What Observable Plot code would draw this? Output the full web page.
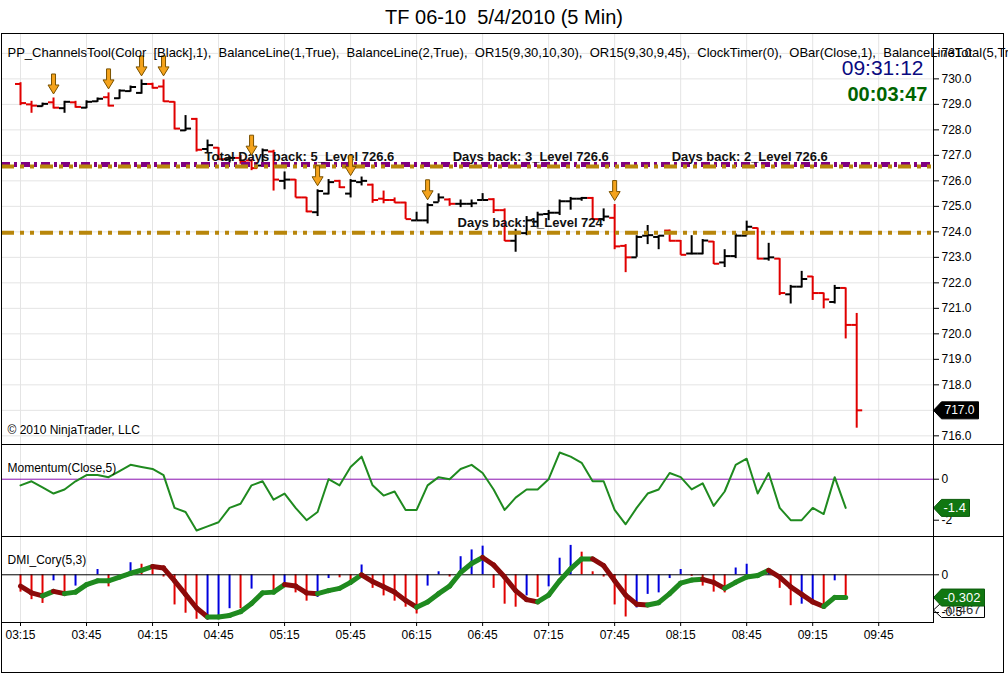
<!DOCTYPE html>
<html>
<head>
<meta charset="utf-8">
<script src="https://cdn.jsdelivr.net/npm/d3@7"></script>
<script src="https://cdn.jsdelivr.net/npm/@observablehq/plot@0.6"></script>
<style>
html,body{margin:0;padding:0;background:#fff;}
#wrap{position:relative;width:1008px;height:675px;overflow:hidden;font-family:"Liberation Sans",Arial,sans-serif;background:#fff;}
#title{position:absolute;left:0;top:6px;width:1008px;text-align:center;font-size:20px;line-height:22px;color:#000;white-space:pre;}
.pane{position:absolute;left:1px;}
.ln{position:absolute;background:#000;z-index:5;}
.frame{position:absolute;left:1px;top:33px;width:1003px;height:640px;border:1px solid #000;box-sizing:border-box;z-index:5;pointer-events:none;}
</style>
</head>
<body>
<div id="wrap">
  <div id="title">TF 06-10  5/4/2010 (5 Min)</div>
  <div class="pane" id="main" style="top:34px"></div>
  <div class="pane" id="mom" style="top:444px"></div>
  <div class="pane" id="dmi" style="top:536px"></div>
  <div class="frame"></div>
  <div class="ln" style="left:1px;top:444px;width:1003px;height:1px"></div>
  <div class="ln" style="left:1px;top:536px;width:1003px;height:1px"></div>
  <div class="ln" style="left:1px;top:622px;width:933px;height:1px"></div>
  <div class="ln" style="left:933px;top:33px;width:1px;height:590px"></div>
</div>
<script>
// ---------------- data ----------------
const tickLabels = ["03:15","03:45","04:15","04:45","05:15","05:45","06:15","06:45","07:15","07:45","08:15","08:45","09:15","09:45"];
const priceTicks = [716,717,718,719,720,721,722,723,724,725,726,727,728,729,730,731];
const momTicks = [0, -2];
const dmiTicks = [0, -0.5];
const barStart = "03:15";

const open = [
  729.8, 729.0, 728.93, 729.08, 728.85, 729.08, 728.87, 729.12, 729.28, 729.24,
  729.52, 729.45, 729.8, 729.7, 729.1, 727.98, 728.43, 727.25, 727.3, 726.85,
  726.9, 726.8, 726.6, 727.15, 726.0, 726.05, 725.35, 724.77, 725.5, 726.0,
  725.5, 725.95, 725.85, 725.3, 725.25, 725.15, 724.45, 724.45, 725.16, 725.27,
  725.1, 725.1, 725.25, 725.28, 724.85, 723.65, 723.95, 724.4, 724.7, 724.75,
  725.2, 725.3, 725.33, 724.5, 724.55, 723.45, 723.0, 723.85, 723.8, 724.05,
  723.65, 723.15, 723.15, 723.62, 722.8, 723.05, 723.85, 724.15, 722.95, 722.95,
  721.55, 721.85, 722.25, 721.6, 721.25, 721.8, 720.35];
const high = [
  729.85, 729.12, 729.05, 729.25, 729.12, 729.12, 729.14, 729.25, 729.45, 729.57,
  729.72, 729.96, 729.83, 729.96, 729.1, 728.56, 728.45, 727.6, 727.3, 726.95,
  727.0, 726.85, 727.25, 727.2, 726.35, 726.05, 725.35, 725.65, 726.05, 726.02,
  726.05, 726.15, 725.87, 725.6, 725.33, 725.16, 724.77, 725.1, 725.49, 725.3,
  725.25, 725.25, 725.5, 725.3, 724.9, 724.1, 724.6, 724.77, 724.84, 725.25,
  725.35, 725.35, 725.35, 724.9, 725.07, 723.5, 723.85, 724.25, 723.85, 724.07,
  723.66, 723.85, 723.7, 723.62, 723.3, 723.92, 724.42, 724.15, 723.55, 722.95,
  721.9, 722.45, 722.25, 721.6, 721.9, 721.8, 720.8];
const low = [
  728.95, 728.65, 728.9, 728.82, 728.65, 728.85, 728.83, 729.08, 728.9, 729.2,
  729.48, 729.4, 729.6, 729.08, 728.0, 727.94, 727.13, 727.1, 726.8, 726.7,
  726.65, 726.4, 726.55, 725.6, 725.65, 725.33, 724.75, 724.6, 725.45, 725.7,
  725.33, 725.8, 725.12, 725.1, 725.12, 724.49, 724.44, 724.31, 725.16, 725.0,
  724.95, 724.95, 725.25, 724.72, 723.62, 723.2, 723.85, 724.15, 724.44, 724.64,
  724.85, 725.2, 724.45, 724.4, 723.3, 722.4, 723.0, 723.5, 723.3, 723.6,
  723.08, 723.1, 723.1, 722.72, 722.6, 722.95, 723.85, 722.9, 722.85, 721.5,
  721.17, 721.8, 721.31, 720.98, 721.17, 719.8, 716.3];
const close = [
  729.05, 728.95, 729.02, 728.87, 729.1, 728.9, 729.1, 729.22, 728.95, 729.54,
  729.68, 729.8, 729.65, 729.12, 728.05, 728.05, 727.22, 727.4, 726.85, 726.9,
  726.75, 726.5, 727.2, 726.05, 726.05, 725.35, 724.8, 725.6, 725.95, 725.75,
  726.0, 726.0, 725.25, 725.25, 725.15, 724.5, 724.45, 725.05, 725.35, 725.1,
  725.1, 725.12, 725.25, 724.85, 723.65, 724.0, 724.45, 724.68, 724.75, 725.2,
  725.3, 725.33, 724.5, 724.6, 723.43, 723.0, 723.8, 723.87, 723.85, 723.65,
  723.1, 723.15, 723.66, 722.75, 723.05, 723.85, 724.2, 722.95, 723.0, 721.6,
  721.85, 722.15, 721.6, 721.35, 721.8, 720.35, 717.0];

const arrowBars = [3, 8, 11, 13, 21, 27, 30, 37, 54];

const levelValues = [726.6, 724];
const levelLabels = ["Total Days back: 5_Level 726.6", "Days back: 3_Level 726.6", "Days back: 2_Level 726.6", "Days back: 1_Level 724"];
const levelLabelValue = [726.6, 726.6, 726.6, 724];
const levelLabelAt = ["04:38:36", "06:31:24", "08:10:54", "06:33:36"];

const momentum = [
  -0.3, -0.1, -0.4, -0.7, -0.5, -0.1, 0.2, 0.2, 0.1, 0.4,
  0.7, 0.6, 0.5, 0.2, -1.4, -1.6, -2.5, -2.3, -2.1, -1.4,
  -1.2, -0.3, -0.1, -1.0, -0.7, -1.4, -2.0, -1.6, 0.0, -0.3,
  0.6, 1.1, -0.3, -0.8, -0.6, -1.5, -1.5, -0.3, 0.1, 0.0,
  0.5, 0.7, 0.3, -0.5, -1.5, -0.9, -0.5, -0.5, 0.0, 1.3,
  1.1, 0.8, -0.1, -0.1, -1.5, -2.2, -1.4, -0.7, -0.5, 0.3,
  0.1, -0.5, -0.2, -1.3, -0.6, 0.7, 1.0, -0.7, 0.3, -1.4,
  -2.0, -2.0, -1.4, -1.7, 0.1, -1.4];

const dmiHist = [
  -0.23, -0.33, -0.38, -0.08, -0.27, -0.15, 0, 0.07, -0.16, 0,
  0.16, 0.14, 0.12, -0.03, -0.40, -0.51, -0.59, -0.60, -0.54, -0.45,
  -0.45, -0.19, 0, -0.23, -0.13, -0.24, -0.35, -0.30, -0.05, -0.04,
  -0.10, 0.13, -0.18, -0.28, -0.35, -0.43, -0.52, -0.15, 0.04, -0.03,
  0.24, 0.33, 0.38, -0.18, -0.39, -0.43, -0.28, -0.30, -0.16, 0.22,
  0.39, 0.30, 0.04, -0.03, -0.40, -0.56, -0.44, -0.26, -0.24, -0.05,
  0.07, -0.02, -0.15, -0.23, -0.24, 0.09, 0.14, -0.03, 0.04, -0.18,
  -0.41, -0.39, -0.35, -0.43, -0.08, -0.28];
const dmiHistSide = [
  "r","r","r","b","r","b","b","b","r","b",
  "b","r","r","r","r","r","r","b","b","b",
  "r","b","b","r","b","r","r","b","b","r",
  "r","b","r","r","r","r","r","b","b","r",
  "b","b","b","r","r","r","b","r","b","b",
  "b","r","r","r","r","r","b","b","b","b",
  "b","r","r","r","r","b","b","r","b","r",
  "r","b","b","r","b","r"];
const dmiLine = [
  -0.15, -0.24, -0.28, -0.22, -0.25, -0.23, -0.13, -0.08, -0.08, -0.03,
  0.02, 0.06, 0.11, 0.09, -0.08, -0.26, -0.44, -0.56, -0.56, -0.54,
  -0.49, -0.38, -0.24, -0.23, -0.13, -0.15, -0.24, -0.25, -0.21, -0.18,
  -0.10, 0.0, -0.09, -0.16, -0.23, -0.34, -0.43, -0.36, -0.25, -0.15,
  0.03, 0.15, 0.23, 0.13, -0.03, -0.21, -0.33, -0.36, -0.27, -0.08,
  0.08, 0.21, 0.21, 0.12, -0.08, -0.27, -0.39, -0.40, -0.37, -0.25,
  -0.11, -0.07, -0.06, -0.10, -0.18, -0.10, -0.03, -0.01, 0.06, -0.03,
  -0.16, -0.26, -0.36, -0.42, -0.30, -0.30];

const lastPrice = [717.0];
const momLast = [-1.4];
const dmiLastMain = [-0.302];
const dmiLastAlt = [-0.467];

const headerText = "PP_ChannelsTool(Color  [Black],1),  BalanceLine(1,True),  BalanceLine(2,True),  OR15(9,30,10,30),  OR15(9,30,9,45),  ClockTimer(0),  OBar(Close,1),  BalanceLineTotal(5,True)";
const clockText = ["09:31:12"];
const remainText = ["00:03:47"];
const copyright = ["© 2010 NinjaTrader, LLC"];

// ---------------- helpers ----------------
const RED = "#e00000", BLK = "#000000", BLUE = "#0000dd", GRN = "#1f8a1f", DRED = "#8b0a0a", GOLD = "#b8860b", PURP = "#800080";
const pHM = d3.timeParse("%H:%M"), pHMS = d3.timeParse("%H:%M:%S");
const MIN = 60000;
const t0 = pHM(barStart);
const times = open.map((_, i) => new Date(+t0 + i * 5 * MIN));
const xDomain = [new Date(+t0 - 8.64 * MIN), new Date(+t0 + 414.9 * MIN)];
const tickTimes = tickLabels.map(pHM);
const xEnd = () => xDomain[1];

const font = "'Liberation Sans', Arial, sans-serif";
const baseStyle = {background: "transparent", fontFamily: font, fontSize: "12px", color: "#000", overflow: "visible"};

const tickLeft = {draw(c) { c.moveTo(-5.5, 0); c.lineTo(0, 0); }};
const tickRight = {draw(c) { c.moveTo(0, 0); c.lineTo(5.5, 0); }};
const arrowDown = {draw(c) {
  c.moveTo(0, 0); c.lineTo(-5.5, -9); c.lineTo(-2, -9); c.lineTo(-2, -20);
  c.lineTo(2, -20); c.lineTo(2, -9); c.lineTo(5.5, -9); c.closePath();
}};
const tagShape = (w, h) => ({draw(c) {
  c.moveTo(0, 0); c.lineTo(8, -h); c.lineTo(w, -h); c.lineTo(w, h); c.lineTo(8, h); c.closePath();
}});

const bars = times.map((t, i) => ({t, o: open[i], h: high[i], l: low[i], c: close[i]}));
const barColor = d => d.c < d.o ? RED : BLK;

// ---------------- main price pane ----------------
const mainPlot = Plot.plot({
  width: 1003, height: 410,
  marginLeft: 0, marginRight: 71, marginTop: 0, marginBottom: 0,
  style: baseStyle,
  x: {type: "time", domain: xDomain, axis: null},
  y: {domain: [715.66, 731.74], axis: "right", ticks: priceTicks, tickFormat: d => d.toFixed(1), tickSize: 5, tickPadding: 3, label: null},
  color: {type: "identity"},
  marks: [
    Plot.ruleX(tickTimes, {stroke: "#e4e4e4"}),
    Plot.ruleY(priceTicks, {stroke: "#e4e4e4"}),
    Plot.ruleX(bars, {x: "t", y1: "l", y2: "h", stroke: barColor, strokeWidth: 2}),
    Plot.dot(bars, {x: "t", y: "o", symbol: tickLeft, stroke: barColor, fill: "none", strokeWidth: 2}),
    Plot.dot(bars, {x: "t", y: "c", symbol: tickRight, stroke: barColor, fill: "none", strokeWidth: 2}),
    Plot.ruleY([levelValues[0]], {stroke: PURP, strokeWidth: 5, strokeDasharray: "9,4,3,4", dy: -1}),
    Plot.ruleY(levelValues, {stroke: GOLD, strokeWidth: 4, strokeDasharray: "13,6,4,6,4,6", dy: 1}),
    Plot.text(levelLabels, {x: (d, i) => pHMS(levelLabelAt[i]), y: (d, i) => levelLabelValue[i], text: d => d, textAnchor: "start", dy: -9, fontWeight: "bold", fontSize: 13, fill: "#111"}),
    Plot.dot(arrowBars.map(i => bars[i]), {x: "t", y: "h", symbol: arrowDown, fill: "#f4a31c", stroke: "#7a5200", strokeWidth: 1, dy: -4}),
    Plot.text([headerText], {frameAnchor: "top-left", text: d => d, dx: 6, dy: 13, textAnchor: "start", fontSize: 13}),
    Plot.text(clockText, {frameAnchor: "top-right", text: d => d, dx: -10, dy: 26, textAnchor: "end", fontSize: 21, fill: "#0a0a80"}),
    Plot.text(remainText, {frameAnchor: "top-right", text: d => d, dx: -6, dy: 52, textAnchor: "end", fontSize: 20, fontWeight: "bold", fill: "#006400"}),
    Plot.text(copyright, {frameAnchor: "bottom-left", text: d => d, dx: 6, dy: -11, textAnchor: "start", fontSize: 12}),
    Plot.dot(lastPrice, {x: xEnd, y: d => d, symbol: tagShape(45, 8.5), fill: "#000", stroke: "#000", strokeWidth: 1}),
    Plot.text(lastPrice, {x: xEnd, y: d => d, text: d => d.toFixed(1), dx: 11, textAnchor: "start", fill: "#fff", fontSize: 12})
  ]
});
document.getElementById("main").appendChild(mainPlot);

// ---------------- momentum pane ----------------
const momData = momentum.map((v, i) => ({t: times[i], v}));
const momPlot = Plot.plot({
  width: 1003, height: 92,
  marginLeft: 0, marginRight: 71, marginTop: 0, marginBottom: 0,
  style: baseStyle,
  x: {type: "time", domain: xDomain, axis: null},
  y: {domain: [-2.795, 1.693], axis: "right", ticks: momTicks, tickFormat: d => String(d), tickSize: 5, tickPadding: 3, label: null},
  color: {type: "identity"},
  marks: [
    Plot.ruleX(tickTimes, {stroke: "#e4e4e4"}),
    Plot.ruleY([0], {stroke: "#8a10b0", strokeWidth: 1}),
    Plot.line(momData, {x: "t", y: "v", stroke: GRN, strokeWidth: 2}),
    Plot.text(["Momentum(Close,5)"], {frameAnchor: "top-left", text: d => d, dx: 6, dy: 19, textAnchor: "start", fontSize: 12}),
    Plot.dot(momLast, {x: xEnd, y: d => d, symbol: tagShape(36, 8.5), fill: "#117711", stroke: "#0b5a0b", strokeWidth: 1}),
    Plot.text(momLast, {x: xEnd, y: d => d, text: d => d.toFixed(1), dx: 10, textAnchor: "start", fill: "#fff", fontSize: 13})
  ]
});
document.getElementById("mom").appendChild(momPlot);

// ---------------- DMI pane ----------------
const hist = dmiHist.map((v, i) => ({t: times[i], v, col: dmiHistSide[i] === "b" ? BLUE : RED}));
const dmiPts = dmiLine.map((v, i) => ({t: times[i], v}));
const segs = d3.pairs(dmiPts).map(([a, b]) => ({ta: a.t, va: a.v, tb: b.t, vb: b.v, col: b.v < a.v ? DRED : GRN}));
const dmiPlot = Plot.plot({
  width: 1003, height: 114,
  marginLeft: 0, marginRight: 71, marginTop: 0, marginBottom: 28,
  style: baseStyle,
  x: {type: "time", domain: xDomain, ticks: tickTimes, tickFormat: d3.timeFormat("%H:%M"), tickSize: 4, tickPadding: 4, label: null},
  y: {domain: [-0.633, 0.508], axis: "right", ticks: dmiTicks, tickFormat: d => String(d), tickSize: 5, tickPadding: 3, label: null},
  color: {type: "identity"},
  marks: [
    Plot.ruleX(tickTimes, {stroke: "#e4e4e4"}),
    Plot.ruleX(hist, {x: "t", y1: 0, y2: "v", stroke: "col", strokeWidth: 2}),
    Plot.ruleY([0], {stroke: "#000", strokeWidth: 1}),
    Plot.link(segs, {x1: "ta", y1: "va", x2: "tb", y2: "vb", stroke: "col", strokeWidth: 5, strokeLinecap: "round"}),
    Plot.text(["DMI_Cory(5,3)"], {frameAnchor: "top-left", text: d => d, dx: 6, dy: 19, textAnchor: "start", fontSize: 12}),
    Plot.dot(dmiLastAlt, {x: xEnd, y: d => d, symbol: tagShape(51, 7.5), fill: "none", stroke: "#000", strokeWidth: 1}),
    Plot.text(dmiLastAlt, {x: xEnd, y: d => d, text: d => d.toFixed(3), dx: 10, textAnchor: "start", fill: "#333", fontSize: 13}),
    Plot.dot(dmiLastMain, {x: xEnd, y: d => d, symbol: tagShape(51, 8.5), fill: "#117711", stroke: "#0b5a0b", strokeWidth: 1}),
    Plot.text(dmiLastMain, {x: xEnd, y: d => d, text: d => d.toFixed(3), dx: 10, textAnchor: "start", fill: "#fff", fontSize: 13})
  ]
});
document.getElementById("dmi").appendChild(dmiPlot);
</script>
</body>
</html>
